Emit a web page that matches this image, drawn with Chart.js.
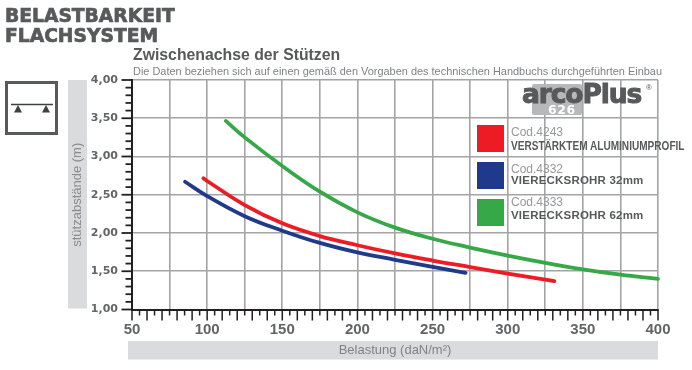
<!DOCTYPE html>
<html lang="de">
<head>
<meta charset="utf-8">
<title>Belastbarkeit Flachsystem</title>
<script src="https://cdn.jsdelivr.net/npm/chart.js@4"></script>
<style>
    html, body { margin: 0; padding: 0; background: #fff; }
    #wrap { position: relative; width: 692px; height: 370px; overflow: hidden; font-family: "Liberation Sans", sans-serif; }
    #chart { position: absolute; left: 0; top: 0; }
    .txt { position: absolute; white-space: nowrap; }
    #head { left: 5px; top: 6px; font: bold 18.7px/20px "DejaVu Sans", sans-serif; color: #58595b; -webkit-text-stroke: 0.7px #58595b; }
    #title { left: 133px; top: 46px; font-weight: bold; font-size: 15.8px; color: #58595b; }
    #sub { left: 133px; top: 65px; font-size: 10.95px; color: #808285; }
    .swatch { position: absolute; left: 477px; width: 27px; height: 27px; }
    .code { left: 511px; font-size: 12px; color: #97989a; }
    .name { left: 511px; font-weight: bold; font-size: 11.5px; letter-spacing: 0.2px; color: #58595b; }
    .narrow { font-size: 13px; letter-spacing: 0; transform: scaleX(0.774); transform-origin: left center; }
    #logo-box { position: absolute; left: 532px; top: 84px; width: 50px; height: 31px; background: #b7b8ba; border-radius: 2px; }
    #logo { left: 522px; top: 80px; font: bold 26.5px/28px "DejaVu Sans", sans-serif; letter-spacing: -1.1px; color: #58595b; -webkit-text-stroke: 1px #58595b; }
    #logo-reg { left: 646px; top: 83px; font-size: 8px; color: #58595b; }
    #logo-num { left: 548px; top: 103px; font: bold 12.5px/13px "DejaVu Sans", sans-serif; letter-spacing: 0.5px; color: #fff; }
    #icon { position: absolute; left: 4px; top: 80px; }
</style>
</head>
<body>
<div id="wrap">
    <canvas id="chart" width="692" height="370"></canvas>
    <div class="txt" id="head">BELASTBARKEIT<br>FLACHSYSTEM</div>
    <div class="txt" id="title">Zwischenachse der Stützen</div>
    <div class="txt" id="sub">Die Daten beziehen sich auf einen gemäß den Vorgaben des technischen Handbuchs durchgeführten Einbau</div>
    <svg id="icon" width="56" height="56">
        <rect x="2.5" y="2.5" width="50" height="51" fill="#fff" stroke="#58595b" stroke-width="3"/>
        <line x1="7" y1="24.5" x2="49" y2="24.5" stroke="#3f4042" stroke-width="1.5"/>
        <polygon points="10,32.500 18,32.500 14,25" fill="#3f4042"/>
        <polygon points="38,32.500 46,32.500 42,25" fill="#3f4042"/>
    </svg>
    <div id="logo-box"></div>
    <div class="txt" id="logo">arcoPlus</div>
    <div class="txt" id="logo-reg">®</div>
    <div class="txt" id="logo-num">626</div>
    <div id="legend"></div>
</div>
<script>
    // Werte
    const redX = [97.5, 100, 125, 150, 175, 200, 225, 250, 275, 300, 325, 331];
    const redY = [2.715, 2.68, 2.365, 2.126, 1.96, 1.84, 1.733, 1.64, 1.555, 1.47, 1.39, 1.37];
    const blueX = [85.3, 100, 125, 150, 175, 200, 225, 250, 272];
    const blueY = [2.67, 2.483, 2.22, 2.03, 1.87, 1.746, 1.65, 1.558, 1.48];
    const greenX = [112.4, 125, 150, 175, 200, 225, 250, 275, 300, 325, 350, 375, 400];
    const greenY = [3.465, 3.25, 2.876, 2.54, 2.27, 2.07, 1.925, 1.81, 1.705, 1.61, 1.525, 1.455, 1.40];

    const seriesCodes = ["Cod.4243", "Cod.4332", "Cod.4333"];
    const seriesNames = ["VERSTÄRKTEM ALUMINIUMPROFIL", "VIERECKSROHR 32mm", "VIERECKSROHR 62mm"];
    const seriesColors = ["#ed1c24", "#1f3a8a", "#37a848"];

    const gridColor = "#a3a4a6";
    const axisColor = "#231f20";
    const labelColor = "#636466";

    function toPoints(xs, ys) {
        return xs.map((x, i) => ({ x: x, y: ys[i] }));
    }

    // Legende neben dem Diagramm
    const legend = document.getElementById("legend");
    const swatchTops = [125, 162, 198.5];
    const codeTops = [125, 161.5, 194.5];
    const nameTops = [137.5, 174, 208.5];
    seriesNames.forEach((name, i) => {
        const cls = i === 0 ? "txt name narrow" : "txt name";
        legend.innerHTML +=
            `<div class="swatch" style="top:${swatchTops[i]}px;background:${seriesColors[i]}"></div>` +
            `<div class="txt code" style="top:${codeTops[i]}px">${seriesCodes[i]}</div>` +
            `<div class="${cls}" style="top:${nameTops[i]}px">${name}</div>`;
    });

    // graue Balken hinter den Achsentiteln
    const bandsPlugin = {
        id: "bands",
        beforeDraw(chart) {
            const c = chart.ctx, a = chart.chartArea;
            c.save();
            c.fillStyle = "#dadbdc";
            c.fillRect(68, a.top, 19, a.bottom - a.top - 1);
            c.fillRect(128, 341, a.right - 128, 18.5);
            c.restore();
        }
    };

    // Teilstriche: lang / kurz
    const ticksPlugin = {
        id: "axisTicks",
        afterDraw(chart) {
            const c = chart.ctx, a = chart.chartArea;
            c.save();
            c.strokeStyle = axisColor;
            c.lineWidth = 1.5;
            chart.scales.x.ticks.forEach(t => {
                const px = chart.scales.x.getPixelForValue(t.value);
                const len = t.value % 10 === 0 ? 11 : 6;
                c.beginPath();
                c.moveTo(px, a.bottom);
                c.lineTo(px, a.bottom + len);
                c.stroke();
            });
            c.lineWidth = 1.8;
            chart.scales.y.ticks.forEach(t => {
                const py = chart.scales.y.getPixelForValue(t.value);
                const len = Math.round(t.value * 10) % 5 === 0 ? 10.5 : 6.5;
                c.beginPath();
                c.moveTo(a.left, py);
                c.lineTo(a.left - len, py);
                c.stroke();
            });
            c.restore();
        }
    };

    const lineStyle = { borderWidth: 3.8, pointRadius: 0, fill: false, tension: 0.4, borderCapStyle: "round", clip: false };

    new Chart(document.getElementById("chart").getContext("2d"), {
        type: "line",
        data: {
            datasets: [
                { data: toPoints(blueX, blueY), borderColor: seriesColors[1], ...lineStyle },
                { data: toPoints(redX, redY), borderColor: seriesColors[0], ...lineStyle },
                { data: toPoints(greenX, greenY), borderColor: seriesColors[2], ...lineStyle }
            ]
        },
        options: {
            responsive: false,
            animation: false,
            layout: { padding: { top: 80, right: 34, left: 0, bottom: 0 } },
            plugins: { legend: { display: false }, tooltip: { enabled: false } },
            scales: {
                x: {
                    type: "linear",
                    min: 50,
                    max: 400,
                    afterFit(scale) { scale.height = 60.5; },
                    border: { color: axisColor, width: 2 },
                    grid: {
                        drawTicks: false,
                        lineWidth: 1.6,
                        color: ctx => (ctx.tick && ctx.tick.value % 25 === 0 ? gridColor : "transparent")
                    },
                    ticks: {
                        stepSize: 5,
                        autoSkip: false,
                        maxRotation: 0,
                        padding: 11,
                        color: labelColor,
                        font: { family: "'Liberation Sans'", size: 15, weight: "bold" },
                        callback: v => (v % 50 === 0 ? String(v) : "")
                    },
                    title: {
                        display: true,
                        text: "Belastung (daN/m²)",
                        color: "#808285",
                        padding: { top: 0, bottom: 12 },
                        font: { family: "'Liberation Sans'", size: 13 }
                    }
                },
                y: {
                    min: 1,
                    max: 4,
                    afterFit(scale) { scale.width = 132; },
                    border: { color: axisColor, width: 2 },
                    grid: {
                        drawTicks: false,
                        lineWidth: 1.6,
                        color: ctx => (ctx.tick && Math.round(ctx.tick.value * 10) % 5 === 0 ? gridColor : "transparent")
                    },
                    ticks: {
                        stepSize: 0.1,
                        autoSkip: false,
                        padding: 14,
                        color: labelColor,
                        font: { family: "'DejaVu Sans'", size: 11, weight: "bold" },
                        callback: v => (Math.round(v * 10) % 5 === 0 ? v.toFixed(2).replace(".", ",") : "")
                    },
                    title: {
                        display: true,
                        text: "stützabstände (m)",
                        color: "#8a8c8e",
                        padding: { top: 70, bottom: 0 },
                        font: { family: "'Liberation Sans'", size: 13 }
                    }
                }
            }
        },
        plugins: [bandsPlugin, ticksPlugin]
    });
</script>
</body>
</html>
